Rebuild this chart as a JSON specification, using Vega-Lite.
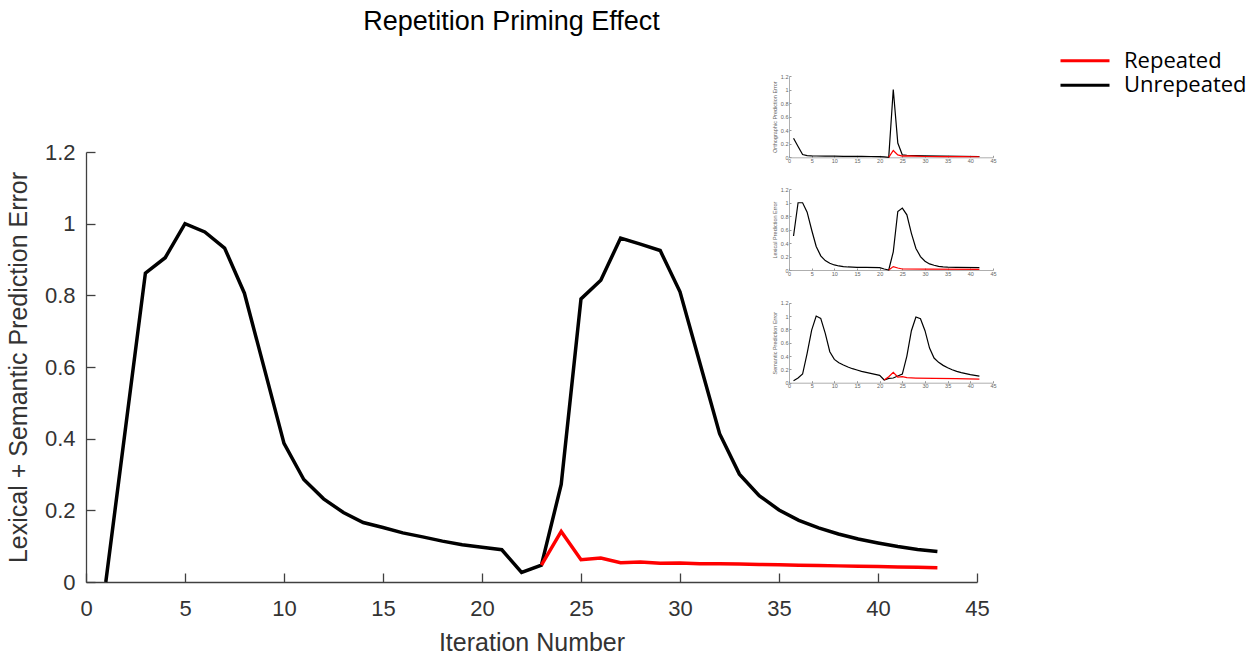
{
  "$schema": "https://vega.github.io/schema/vega-lite/v6.json",
  "width": 891,
  "height": 430,
  "autosize": {"type": "none"},
  "padding": {"left": 86, "top": 152, "right": 281, "bottom": 73},
  "background": "white",
  "title": {
    "text": "Repetition Priming Effect",
    "font": "Liberation Sans",
    "fontSize": 27,
    "fontWeight": "normal",
    "color": "#000000",
    "anchor": "middle",
    "frame": "group",
    "offset": 10,
    "dx": -20,
    "dy": -5
  },
  "config": {
    "view": {"stroke": null},
    "axis": {"grid": false}
  },
  "datasets": {
    "main": [
      {"iteration": 1, "error": 0, "condition": "Unrepeated"},
      {"iteration": 2, "error": 0.431, "condition": "Unrepeated"},
      {"iteration": 3, "error": 0.862, "condition": "Unrepeated"},
      {"iteration": 4, "error": 0.905, "condition": "Unrepeated"},
      {"iteration": 5, "error": 1.0, "condition": "Unrepeated"},
      {"iteration": 6, "error": 0.977, "condition": "Unrepeated"},
      {"iteration": 7, "error": 0.932, "condition": "Unrepeated"},
      {"iteration": 8, "error": 0.806, "condition": "Unrepeated"},
      {"iteration": 9, "error": 0.597, "condition": "Unrepeated"},
      {"iteration": 10, "error": 0.387, "condition": "Unrepeated"},
      {"iteration": 11, "error": 0.286, "condition": "Unrepeated"},
      {"iteration": 12, "error": 0.232, "condition": "Unrepeated"},
      {"iteration": 13, "error": 0.194, "condition": "Unrepeated"},
      {"iteration": 14, "error": 0.166, "condition": "Unrepeated"},
      {"iteration": 15, "error": 0.152, "condition": "Unrepeated"},
      {"iteration": 16, "error": 0.137, "condition": "Unrepeated"},
      {"iteration": 17, "error": 0.126, "condition": "Unrepeated"},
      {"iteration": 18, "error": 0.114, "condition": "Unrepeated"},
      {"iteration": 19, "error": 0.104, "condition": "Unrepeated"},
      {"iteration": 20, "error": 0.097, "condition": "Unrepeated"},
      {"iteration": 21, "error": 0.090, "condition": "Unrepeated"},
      {"iteration": 22, "error": 0.027, "condition": "Unrepeated"},
      {"iteration": 23, "error": 0.047, "condition": "Unrepeated"},
      {"iteration": 24, "error": 0.272, "condition": "Unrepeated"},
      {"iteration": 25, "error": 0.79, "condition": "Unrepeated"},
      {"iteration": 26, "error": 0.842, "condition": "Unrepeated"},
      {"iteration": 27, "error": 0.96, "condition": "Unrepeated"},
      {"iteration": 28, "error": 0.943, "condition": "Unrepeated"},
      {"iteration": 29, "error": 0.925, "condition": "Unrepeated"},
      {"iteration": 30, "error": 0.81, "condition": "Unrepeated"},
      {"iteration": 31, "error": 0.612, "condition": "Unrepeated"},
      {"iteration": 32, "error": 0.414, "condition": "Unrepeated"},
      {"iteration": 33, "error": 0.301, "condition": "Unrepeated"},
      {"iteration": 34, "error": 0.241, "condition": "Unrepeated"},
      {"iteration": 35, "error": 0.201, "condition": "Unrepeated"},
      {"iteration": 36, "error": 0.172, "condition": "Unrepeated"},
      {"iteration": 37, "error": 0.151, "condition": "Unrepeated"},
      {"iteration": 38, "error": 0.134, "condition": "Unrepeated"},
      {"iteration": 39, "error": 0.120, "condition": "Unrepeated"},
      {"iteration": 40, "error": 0.109, "condition": "Unrepeated"},
      {"iteration": 41, "error": 0.099, "condition": "Unrepeated"},
      {"iteration": 42, "error": 0.091, "condition": "Unrepeated"},
      {"iteration": 43, "error": 0.085, "condition": "Unrepeated"},
      {"iteration": 23, "error": 0.047, "condition": "Repeated"},
      {"iteration": 24, "error": 0.141, "condition": "Repeated"},
      {"iteration": 25, "error": 0.062, "condition": "Repeated"},
      {"iteration": 26, "error": 0.067, "condition": "Repeated"},
      {"iteration": 27, "error": 0.054, "condition": "Repeated"},
      {"iteration": 28, "error": 0.056, "condition": "Repeated"},
      {"iteration": 29, "error": 0.052, "condition": "Repeated"},
      {"iteration": 30, "error": 0.053, "condition": "Repeated"},
      {"iteration": 31, "error": 0.051, "condition": "Repeated"},
      {"iteration": 32, "error": 0.051, "condition": "Repeated"},
      {"iteration": 33, "error": 0.050, "condition": "Repeated"},
      {"iteration": 34, "error": 0.049, "condition": "Repeated"},
      {"iteration": 35, "error": 0.048, "condition": "Repeated"},
      {"iteration": 36, "error": 0.047, "condition": "Repeated"},
      {"iteration": 37, "error": 0.046, "condition": "Repeated"},
      {"iteration": 38, "error": 0.045, "condition": "Repeated"},
      {"iteration": 39, "error": 0.044, "condition": "Repeated"},
      {"iteration": 40, "error": 0.043, "condition": "Repeated"},
      {"iteration": 41, "error": 0.042, "condition": "Repeated"},
      {"iteration": 42, "error": 0.041, "condition": "Repeated"},
      {"iteration": 43, "error": 0.040, "condition": "Repeated"}
    ],
    "ortho": [
      {"iteration": 1, "error": 0.28, "condition": "Unrepeated"},
      {"iteration": 2, "error": 0.16, "condition": "Unrepeated"},
      {"iteration": 3, "error": 0.04, "condition": "Unrepeated"},
      {"iteration": 4, "error": 0.026, "condition": "Unrepeated"},
      {"iteration": 5, "error": 0.021, "condition": "Unrepeated"},
      {"iteration": 6, "error": 0.019, "condition": "Unrepeated"},
      {"iteration": 8, "error": 0.017, "condition": "Unrepeated"},
      {"iteration": 10, "error": 0.016, "condition": "Unrepeated"},
      {"iteration": 12, "error": 0.015, "condition": "Unrepeated"},
      {"iteration": 14, "error": 0.014, "condition": "Unrepeated"},
      {"iteration": 16, "error": 0.013, "condition": "Unrepeated"},
      {"iteration": 18, "error": 0.012, "condition": "Unrepeated"},
      {"iteration": 20, "error": 0.011, "condition": "Unrepeated"},
      {"iteration": 21, "error": 0.006, "condition": "Unrepeated"},
      {"iteration": 22, "error": 0.0, "condition": "Unrepeated"},
      {"iteration": 23, "error": 1.0, "condition": "Unrepeated"},
      {"iteration": 24, "error": 0.21, "condition": "Unrepeated"},
      {"iteration": 25, "error": 0.035, "condition": "Unrepeated"},
      {"iteration": 26, "error": 0.03, "condition": "Unrepeated"},
      {"iteration": 28, "error": 0.024, "condition": "Unrepeated"},
      {"iteration": 30, "error": 0.02, "condition": "Unrepeated"},
      {"iteration": 34, "error": 0.017, "condition": "Unrepeated"},
      {"iteration": 38, "error": 0.014, "condition": "Unrepeated"},
      {"iteration": 42, "error": 0.012, "condition": "Unrepeated"},
      {"iteration": 22, "error": 0.0, "condition": "Repeated"},
      {"iteration": 23, "error": 0.1, "condition": "Repeated"},
      {"iteration": 24, "error": 0.035, "condition": "Repeated"},
      {"iteration": 25, "error": 0.018, "condition": "Repeated"},
      {"iteration": 26, "error": 0.02, "condition": "Repeated"},
      {"iteration": 28, "error": 0.016, "condition": "Repeated"},
      {"iteration": 30, "error": 0.012, "condition": "Repeated"},
      {"iteration": 34, "error": 0.01, "condition": "Repeated"},
      {"iteration": 38, "error": 0.009, "condition": "Repeated"},
      {"iteration": 42, "error": 0.008, "condition": "Repeated"}
    ],
    "lex": [
      {"iteration": 1, "error": 0.506, "condition": "Unrepeated"},
      {"iteration": 2, "error": 1.0, "condition": "Unrepeated"},
      {"iteration": 3, "error": 1.0, "condition": "Unrepeated"},
      {"iteration": 4, "error": 0.86, "condition": "Unrepeated"},
      {"iteration": 5, "error": 0.595, "condition": "Unrepeated"},
      {"iteration": 6, "error": 0.35, "condition": "Unrepeated"},
      {"iteration": 7, "error": 0.21, "condition": "Unrepeated"},
      {"iteration": 8, "error": 0.14, "condition": "Unrepeated"},
      {"iteration": 9, "error": 0.10, "condition": "Unrepeated"},
      {"iteration": 10, "error": 0.075, "condition": "Unrepeated"},
      {"iteration": 11, "error": 0.06, "condition": "Unrepeated"},
      {"iteration": 12, "error": 0.05, "condition": "Unrepeated"},
      {"iteration": 13, "error": 0.045, "condition": "Unrepeated"},
      {"iteration": 14, "error": 0.042, "condition": "Unrepeated"},
      {"iteration": 15, "error": 0.04, "condition": "Unrepeated"},
      {"iteration": 17, "error": 0.038, "condition": "Unrepeated"},
      {"iteration": 20, "error": 0.035, "condition": "Unrepeated"},
      {"iteration": 21, "error": 0.015, "condition": "Unrepeated"},
      {"iteration": 22, "error": 0.0, "condition": "Unrepeated"},
      {"iteration": 23, "error": 0.27, "condition": "Unrepeated"},
      {"iteration": 24, "error": 0.87, "condition": "Unrepeated"},
      {"iteration": 25, "error": 0.92, "condition": "Unrepeated"},
      {"iteration": 26, "error": 0.82, "condition": "Unrepeated"},
      {"iteration": 27, "error": 0.545, "condition": "Unrepeated"},
      {"iteration": 28, "error": 0.32, "condition": "Unrepeated"},
      {"iteration": 29, "error": 0.2, "condition": "Unrepeated"},
      {"iteration": 30, "error": 0.13, "condition": "Unrepeated"},
      {"iteration": 31, "error": 0.09, "condition": "Unrepeated"},
      {"iteration": 32, "error": 0.07, "condition": "Unrepeated"},
      {"iteration": 33, "error": 0.055, "condition": "Unrepeated"},
      {"iteration": 34, "error": 0.047, "condition": "Unrepeated"},
      {"iteration": 35, "error": 0.042, "condition": "Unrepeated"},
      {"iteration": 37, "error": 0.038, "condition": "Unrepeated"},
      {"iteration": 42, "error": 0.035, "condition": "Unrepeated"},
      {"iteration": 22, "error": 0.0, "condition": "Repeated"},
      {"iteration": 23, "error": 0.05, "condition": "Repeated"},
      {"iteration": 24, "error": 0.03, "condition": "Repeated"},
      {"iteration": 25, "error": 0.015, "condition": "Repeated"},
      {"iteration": 30, "error": 0.012, "condition": "Repeated"},
      {"iteration": 42, "error": 0.01, "condition": "Repeated"}
    ],
    "sem": [
      {"iteration": 1, "error": 0.03, "condition": "Unrepeated"},
      {"iteration": 2, "error": 0.07, "condition": "Unrepeated"},
      {"iteration": 3, "error": 0.13, "condition": "Unrepeated"},
      {"iteration": 4, "error": 0.44, "condition": "Unrepeated"},
      {"iteration": 5, "error": 0.79, "condition": "Unrepeated"},
      {"iteration": 6, "error": 1.0, "condition": "Unrepeated"},
      {"iteration": 7, "error": 0.965, "condition": "Unrepeated"},
      {"iteration": 8, "error": 0.74, "condition": "Unrepeated"},
      {"iteration": 9, "error": 0.465, "condition": "Unrepeated"},
      {"iteration": 10, "error": 0.35, "condition": "Unrepeated"},
      {"iteration": 11, "error": 0.3, "condition": "Unrepeated"},
      {"iteration": 12, "error": 0.265, "condition": "Unrepeated"},
      {"iteration": 13, "error": 0.235, "condition": "Unrepeated"},
      {"iteration": 14, "error": 0.21, "condition": "Unrepeated"},
      {"iteration": 15, "error": 0.19, "condition": "Unrepeated"},
      {"iteration": 16, "error": 0.17, "condition": "Unrepeated"},
      {"iteration": 17, "error": 0.155, "condition": "Unrepeated"},
      {"iteration": 18, "error": 0.14, "condition": "Unrepeated"},
      {"iteration": 19, "error": 0.125, "condition": "Unrepeated"},
      {"iteration": 20, "error": 0.11, "condition": "Unrepeated"},
      {"iteration": 21, "error": 0.04, "condition": "Unrepeated"},
      {"iteration": 22, "error": 0.065, "condition": "Unrepeated"},
      {"iteration": 23, "error": 0.07, "condition": "Unrepeated"},
      {"iteration": 24, "error": 0.1, "condition": "Unrepeated"},
      {"iteration": 25, "error": 0.13, "condition": "Unrepeated"},
      {"iteration": 26, "error": 0.4, "condition": "Unrepeated"},
      {"iteration": 27, "error": 0.78, "condition": "Unrepeated"},
      {"iteration": 28, "error": 0.985, "condition": "Unrepeated"},
      {"iteration": 29, "error": 0.96, "condition": "Unrepeated"},
      {"iteration": 30, "error": 0.78, "condition": "Unrepeated"},
      {"iteration": 31, "error": 0.52, "condition": "Unrepeated"},
      {"iteration": 32, "error": 0.37, "condition": "Unrepeated"},
      {"iteration": 33, "error": 0.305, "condition": "Unrepeated"},
      {"iteration": 34, "error": 0.26, "condition": "Unrepeated"},
      {"iteration": 35, "error": 0.225, "condition": "Unrepeated"},
      {"iteration": 36, "error": 0.195, "condition": "Unrepeated"},
      {"iteration": 37, "error": 0.17, "condition": "Unrepeated"},
      {"iteration": 38, "error": 0.15, "condition": "Unrepeated"},
      {"iteration": 39, "error": 0.135, "condition": "Unrepeated"},
      {"iteration": 40, "error": 0.12, "condition": "Unrepeated"},
      {"iteration": 41, "error": 0.11, "condition": "Unrepeated"},
      {"iteration": 42, "error": 0.1, "condition": "Unrepeated"},
      {"iteration": 21, "error": 0.04, "condition": "Repeated"},
      {"iteration": 22, "error": 0.09, "condition": "Repeated"},
      {"iteration": 23, "error": 0.155, "condition": "Repeated"},
      {"iteration": 24, "error": 0.085, "condition": "Repeated"},
      {"iteration": 25, "error": 0.09, "condition": "Repeated"},
      {"iteration": 26, "error": 0.075, "condition": "Repeated"},
      {"iteration": 28, "error": 0.07, "condition": "Repeated"},
      {"iteration": 32, "error": 0.066, "condition": "Repeated"},
      {"iteration": 37, "error": 0.06, "condition": "Repeated"},
      {"iteration": 42, "error": 0.055, "condition": "Repeated"}
    ]
  },
  "layer": [
    {
      "data": {"name": "main"},
      "mark": {"type": "line", "strokeWidth": 3.5, "strokeJoin": "miter"},
      "encoding": {
        "x": {
          "field": "iteration", "type": "quantitative",
          "scale": {"domain": [0, 45], "nice": false, "zero": false},
          "axis": {
            "orient": "bottom", "values": [0, 5, 10, 15, 20, 25, 30, 35, 40, 45],
            "title": "Iteration Number", "titleFont": "Liberation Sans", "titleFontSize": 25,
            "titleFontWeight": "normal", "titleColor": "#333333", "titlePadding": 11,
            "labelFont": "Liberation Sans", "labelFontSize": 22, "labelColor": "#333333",
            "labelPadding": 25, "tickSize": -9, "tickColor": "#404040", "domainColor": "#404040",
            "domainWidth": 1.3, "tickWidth": 1.3, "labelFlush": false, "labelOverlap": false
          }
        },
        "y": {
          "field": "error", "type": "quantitative",
          "scale": {"domain": [0, 1.2], "nice": false, "zero": false},
          "axis": {
            "orient": "left", "values": [0, 0.2, 0.4, 0.6, 0.8, 1, 1.2], "format": "~g",
            "title": "Lexical + Semantic Prediction Error", "titleFont": "Liberation Sans", "titleFontSize": 25,
            "titleFontWeight": "normal", "titleColor": "#333333", "titlePadding": 13,
            "labelFont": "Liberation Sans", "labelFontSize": 22, "labelColor": "#333333",
            "labelPadding": 20, "tickSize": -9, "tickColor": "#404040", "domainColor": "#404040",
            "domainWidth": 1.3, "tickWidth": 1.3, "labelFlush": false, "labelOverlap": false
          }
        },
        "color": {
          "field": "condition", "type": "nominal",
          "scale": {"domain": ["Repeated", "Unrepeated"], "range": ["#ff0000", "#000000"]},
          "legend": {
            "title": null, "orient": "none", "legendX": 973, "legendY": -101.3,
            "symbolType": "stroke", "symbolSize": 2401, "symbolStrokeWidth": 3,
            "labelFont": "Open Sans", "labelFontSize": 22, "labelColor": "#000000",
            "labelOffset": 13, "padding": 0, "rowPadding": 2.6, "clipHeight": 20
          }
        }
      }
    },
    {
      "data": {"name": "ortho"},
      "mark": {"type": "line", "strokeWidth": 1.2},
      "encoding": {
        "x": {
          "field": "iteration", "type": "quantitative",
          "scale": {"domain": [0, 45], "nice": false, "zero": false, "range": [703, 907]},
          "axis": {
            "orient": "bottom", "offset": -424.7, "values": [0, 5, 10, 15, 20, 25, 30, 35, 40, 45],
            "title": null, "labelFontSize": 5.5, "labelColor": "#666666", "labelPadding": 3,
            "tickSize": -2, "tickColor": "#999999", "domainColor": "#999999", "domainWidth": 0.8,
            "labelFlush": false, "labelOverlap": false
          }
        },
        "y": {
          "field": "error", "type": "quantitative",
          "scale": {"domain": [0, 1.2], "nice": false, "zero": false, "range": [5.3, -76]},
          "axis": {
            "orient": "left", "offset": -703, "values": [0, 0.2, 0.4, 0.6, 0.8, 1, 1.2], "format": "~g",
            "title": "Orthographic Prediction Error", "titleFontSize": 5.5, "titleFontWeight": "normal",
            "titleColor": "#666666", "titlePadding": 3,
            "labelFontSize": 5.5, "labelColor": "#666666", "labelPadding": 3,
            "tickSize": -2, "tickColor": "#999999", "domainColor": "#999999", "domainWidth": 0.8,
            "labelFlush": false, "labelOverlap": false
          }
        },
        "color": {"field": "condition", "type": "nominal", "legend": null}
      }
    },
    {
      "data": {"name": "lex"},
      "mark": {"type": "line", "strokeWidth": 1.2},
      "encoding": {
        "x": {
          "field": "iteration", "type": "quantitative",
          "scale": {"domain": [0, 45], "nice": false, "zero": false, "range": [703, 907]},
          "axis": {
            "orient": "bottom", "offset": -312, "values": [0, 5, 10, 15, 20, 25, 30, 35, 40, 45],
            "title": null, "labelFontSize": 5.5, "labelColor": "#666666", "labelPadding": 3,
            "tickSize": -2, "tickColor": "#999999", "domainColor": "#999999", "domainWidth": 0.8,
            "labelFlush": false, "labelOverlap": false
          }
        },
        "y": {
          "field": "error", "type": "quantitative",
          "scale": {"domain": [0, 1.2], "nice": false, "zero": false, "range": [118, 37.3]},
          "axis": {
            "orient": "left", "offset": -703, "values": [0, 0.2, 0.4, 0.6, 0.8, 1, 1.2], "format": "~g",
            "title": "Lexical Prediction Error", "titleFontSize": 5.5, "titleFontWeight": "normal",
            "titleColor": "#666666", "titlePadding": 3,
            "labelFontSize": 5.5, "labelColor": "#666666", "labelPadding": 3,
            "tickSize": -2, "tickColor": "#999999", "domainColor": "#999999", "domainWidth": 0.8,
            "labelFlush": false, "labelOverlap": false
          }
        },
        "color": {"field": "condition", "type": "nominal", "legend": null}
      }
    },
    {
      "data": {"name": "sem"},
      "mark": {"type": "line", "strokeWidth": 1.2},
      "encoding": {
        "x": {
          "field": "iteration", "type": "quantitative",
          "scale": {"domain": [0, 45], "nice": false, "zero": false, "range": [703, 907]},
          "axis": {
            "orient": "bottom", "offset": -199.3, "values": [0, 5, 10, 15, 20, 25, 30, 35, 40, 45],
            "title": null, "labelFontSize": 5.5, "labelColor": "#666666", "labelPadding": 3,
            "tickSize": -2, "tickColor": "#999999", "domainColor": "#999999", "domainWidth": 0.8,
            "labelFlush": false, "labelOverlap": false
          }
        },
        "y": {
          "field": "error", "type": "quantitative",
          "scale": {"domain": [0, 1.2], "nice": false, "zero": false, "range": [230.7, 150.7]},
          "axis": {
            "orient": "left", "offset": -703, "values": [0, 0.2, 0.4, 0.6, 0.8, 1, 1.2], "format": "~g",
            "title": "Semantic Prediction Error", "titleFontSize": 5.5, "titleFontWeight": "normal",
            "titleColor": "#666666", "titlePadding": 3,
            "labelFontSize": 5.5, "labelColor": "#666666", "labelPadding": 3,
            "tickSize": -2, "tickColor": "#999999", "domainColor": "#999999", "domainWidth": 0.8,
            "labelFlush": false, "labelOverlap": false
          }
        },
        "color": {"field": "condition", "type": "nominal", "legend": null}
      }
    }
  ],
  "resolve": {"scale": {"x": "independent", "y": "independent"}}
}
